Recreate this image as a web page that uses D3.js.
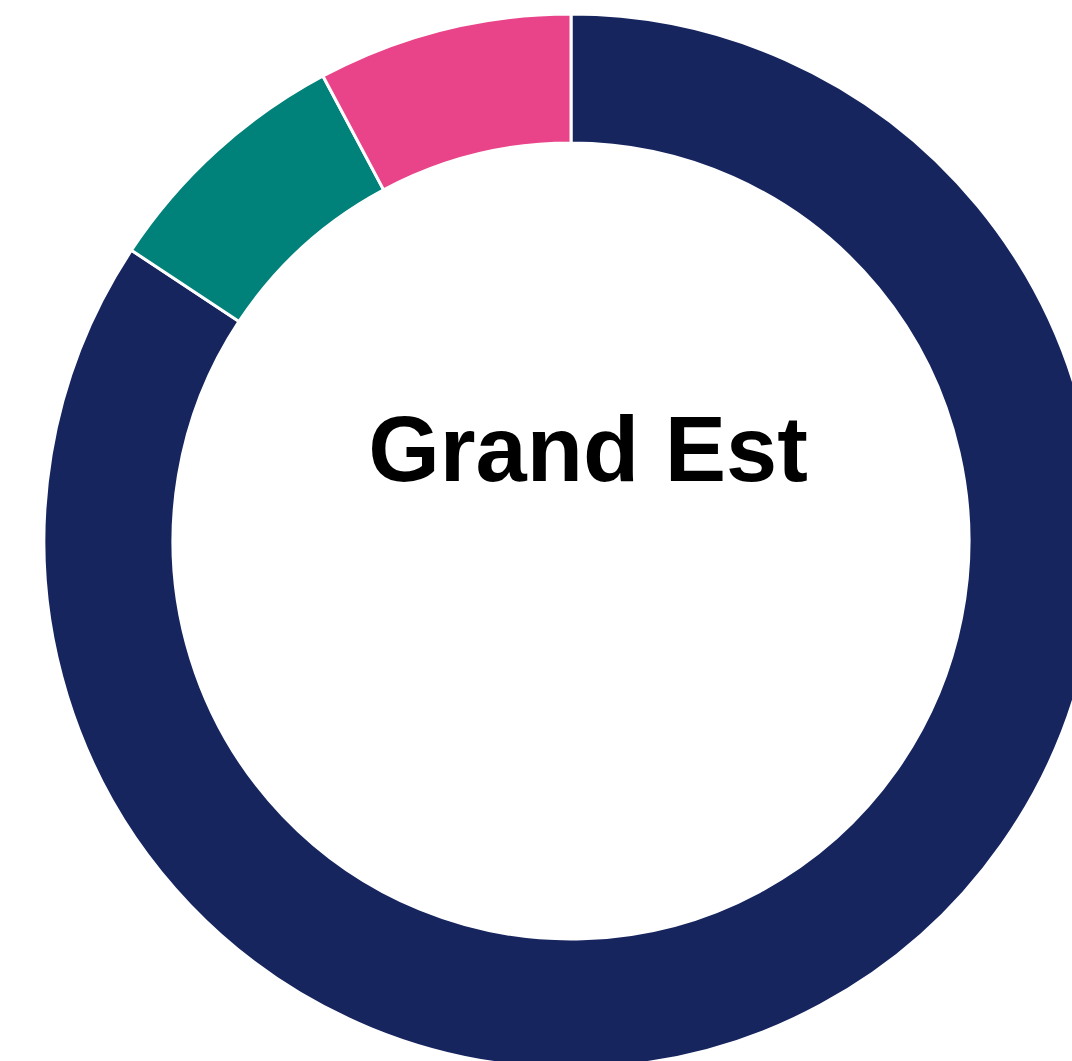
<!DOCTYPE html>
<html>
<head>
<meta charset="utf-8">
<script src="https://cdn.jsdelivr.net/npm/d3@7"></script>
<style>
  html, body { margin: 0; padding: 0; background: #fff; overflow: hidden; }
</style>
</head>
<body>
<script>
// data (share of the ring, clockwise from 12 o'clock)
var categories = ['Part 1', 'Part 2', 'Part 3'];
var values = [84.3, 7.9, 7.8];
var colors = ['#17255F', '#00817A', '#E94489'];
var title = 'Grand Est';

var width = 1072,
    height = 1061,
    cx = 571,
    cy = 541,
    outerR = 527,
    innerR = 398;

var data = categories.map(function (c, i) {
    return { name: c, value: values[i] };
});

var color = d3.scaleOrdinal()
    .domain(categories)
    .range(colors);

var svg = d3.select('body')
    .append('svg')
    .attr('width', width)
    .attr('height', height);

var g = svg.append('g')
    .attr('transform', 'translate(' + cx + ',' + cy + ')');

var pie = d3.pie()
    .sort(null)
    .value(function (d) { return d.value; });

var arc = d3.arc()
    .innerRadius(innerR)
    .outerRadius(outerR);

g.selectAll('path')
    .data(pie(data))
    .enter()
    .append('path')
    .attr('d', arc)
    .attr('fill', function (d) { return color(d.data.name); })
    .attr('stroke', '#fff')
    .attr('stroke-width', 3);

g.append('text')
    .attr('x', 17)
    .attr('y', -60)
    .attr('text-anchor', 'middle')
    .attr('font-family', 'Liberation Sans, Arial, sans-serif')
    .attr('font-weight', 'bold')
    .attr('font-size', 92)
    .attr('fill', '#000')
    .text(title);
</script>
</body>
</html>
